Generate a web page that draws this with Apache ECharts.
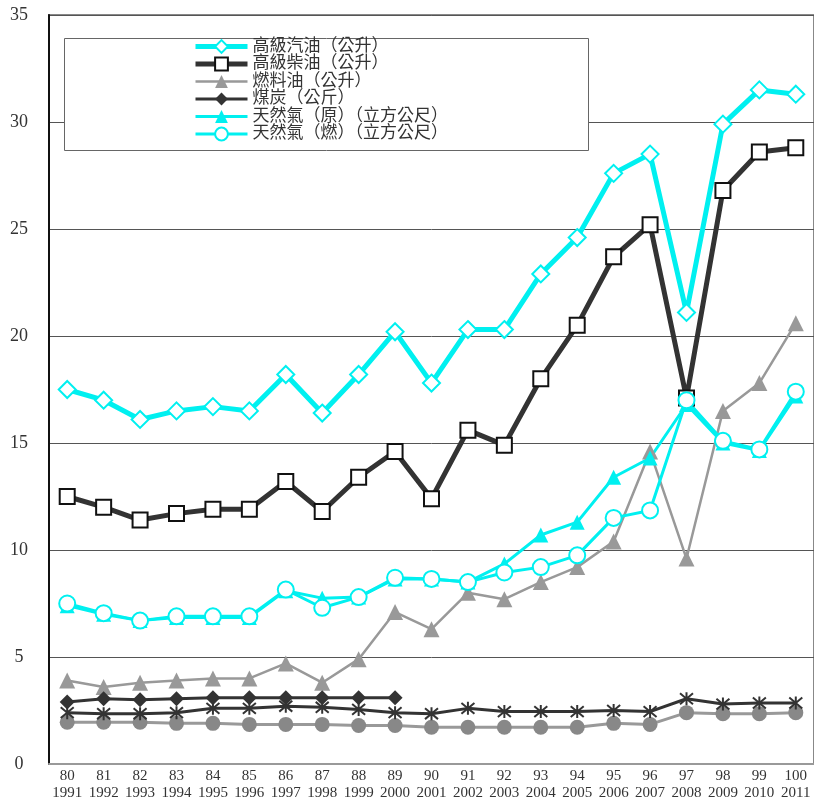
<!DOCTYPE html>
<html lang="zh-Hant">
<head>
<meta charset="UTF-8">
<title>能源價格</title>
<style>
  * { margin: 0; padding: 0; }
  body { background: #fff; }
  #chart { width: 814px; height: 802px; }
</style>
<script src="https://cdn.jsdelivr.net/npm/echarts@6/dist/echarts.min.js"></script>
</head>
<body>
<div id="chart"></div>
<script>
// 民國年 / 西元年
var rocYears = ['80','81','82','83','84','85','86','87','88','89','90','91','92','93','94','95','96','97','98','99','100'];
var adYears = ['1991','1992','1993','1994','1995','1996','1997','1998','1999','2000','2001','2002','2003','2004','2005','2006','2007','2008','2009','2010','2011'];

var gasoline = [17.5, 17.0, 16.1, 16.5, 16.7, 16.5, 18.2, 16.4, 18.2, 20.2, 17.8, 20.3, 20.3, 22.9, 24.6, 27.6, 28.5, 21.1, 29.9, 31.5, 31.3];
var diesel = [12.5, 12.0, 11.4, 11.7, 11.9, 11.9, 13.2, 11.8, 13.4, 14.6, 12.4, 15.6, 14.9, 18.0, 20.5, 23.7, 25.2, 17.1, 26.8, 28.6, 28.8];
var fuelOil = [3.9, 3.6, 3.8, 3.9, 4.0, 4.0, 4.7, 3.8, 4.9, 7.1, 6.3, 8.0, 7.7, 8.5, 9.2, 10.4, 14.6, 9.6, 16.5, 17.8, 20.6];
var coal = [2.9, 3.05, 3.0, 3.05, 3.1, 3.1, 3.1, 3.1, 3.1, 3.1];
var gasRaw = [7.4, 7.0, 6.7, 6.85, 6.85, 6.85, 8.1, 7.75, 7.8, 8.65, 8.65, 8.5, 9.35, 10.7, 11.3, 13.4, 14.3, 16.8, 15.0, 14.65, 17.2];
var gasFuel = [7.5, 7.05, 6.7, 6.9, 6.9, 6.9, 8.15, 7.3, 7.8, 8.7, 8.65, 8.5, 8.95, 9.2, 9.75, 11.5, 11.85, 17.0, 15.1, 14.7, 17.4];
var starSeries = [2.4, 2.35, 2.35, 2.4, 2.6, 2.6, 2.7, 2.65, 2.55, 2.4, 2.35, 2.6, 2.45, 2.45, 2.45, 2.5, 2.45, 3.05, 2.8, 2.85, 2.85];
var dotSeries = [1.95, 1.95, 1.95, 1.9, 1.9, 1.85, 1.85, 1.85, 1.8, 1.8, 1.72, 1.72, 1.72, 1.72, 1.72, 1.9, 1.85, 2.4, 2.35, 2.35, 2.4];

var names = ['高級汽油（公升）', '高級柴油（公升）', '燃料油（公升）', '煤炭（公斤）', '天然氣（原）（立方公尺）', '天然氣（燃）（立方公尺）'];

var categories = rocYears.map(function (r, i) { return r + '\n' + adYears[i]; });

var serif = '"Liberation Serif", "Noto Sans CJK TC", serif';
var CYAN = '#00f0f0';
var DARK = '#333333';
var GREY = '#999999';

var chart = echarts.init(document.getElementById('chart'));

var option = {
  animation: false,
  backgroundColor: '#fff',
  grid: {
    left: 49, right: -1, top: 15, bottom: 37,
    show: true, borderColor: '#888', borderWidth: 2, backgroundColor: 'transparent'
  },
  graphic: [{
    type: 'rect', z: 3,
    shape: { x: 64.5, y: 38.5, width: 524, height: 112 },
    style: { fill: '#fff', stroke: '#666', lineWidth: 1 }
  }],
  legend: {
    data: names,
    orient: 'vertical',
    left: 193, top: 38,
    padding: 0,
    itemWidth: 52, itemHeight: 16, itemGap: 0.5,
    lineStyle: { width: 'inherit' },
    textStyle: { fontFamily: serif, fontSize: 17, lineHeight: 17, color: '#333', padding: [0, 0, 0, 0] }
  },
  xAxis: {
    type: 'category',
    data: categories,
    boundaryGap: true,
    axisLine: { lineStyle: { color: '#999', width: 2 } },
    axisTick: { show: false },
    axisLabel: { interval: 0, fontFamily: serif, fontSize: 15, lineHeight: 17, color: '#333', margin: 4 }
  },
  yAxis: {
    type: 'value',
    min: 0, max: 35, interval: 5,
    axisLine: { show: true, lineStyle: { color: '#111', width: 2 } },
    axisTick: { show: false },
    splitLine: { lineStyle: { color: '#555', width: 1 } },
    axisLabel: { fontFamily: serif, fontSize: 18, color: '#333', align: 'center', margin: 30 }
  },
  series: [
    { name: '_dot', type: 'line', data: dotSeries, symbol: 'circle', symbolSize: 15,
      lineStyle: { color: GREY, width: 3 }, itemStyle: { color: '#888' } },
    { name: '_star', type: 'line', data: starSeries,
      symbol: 'path://M0,0L10,10M10,0L0,10M5,-1L5,11', symbolSize: 13,
      lineStyle: { color: DARK, width: 3 }, itemStyle: { color: DARK, borderColor: DARK, borderWidth: 2 } },
    { name: names[0], type: 'line', data: gasoline, symbol: 'emptyDiamond', symbolSize: 17,
      lineStyle: { color: CYAN, width: 5 }, itemStyle: { color: CYAN, borderWidth: 2 } },
    { name: names[1], type: 'line', data: diesel, symbol: 'emptyRect', symbolSize: 15,
      lineStyle: { color: DARK, width: 5 }, itemStyle: { color: '#111', borderWidth: 2 } },
    { name: names[2], type: 'line', data: fuelOil, symbol: 'triangle', symbolSize: 16,
      lineStyle: { color: GREY, width: 2.5 }, itemStyle: { color: GREY } },
    { name: names[3], type: 'line', data: coal, symbol: 'diamond', symbolSize: 15,
      lineStyle: { color: DARK, width: 3 }, itemStyle: { color: DARK } },
    { name: names[4], type: 'line', data: gasRaw, symbol: 'triangle', symbolSize: 15,
      lineStyle: { color: CYAN, width: 3 }, itemStyle: { color: CYAN } },
    { name: names[5], type: 'line', data: gasFuel, symbol: 'emptyCircle', symbolSize: 16,
      lineStyle: { color: CYAN, width: 3 }, itemStyle: { color: CYAN, borderWidth: 2 } }
  ]
};

option.series.forEach(function (s) { s.showAllSymbol = true; s.emphasis = { disabled: true }; });

chart.setOption(option);
</script>
</body>
</html>
